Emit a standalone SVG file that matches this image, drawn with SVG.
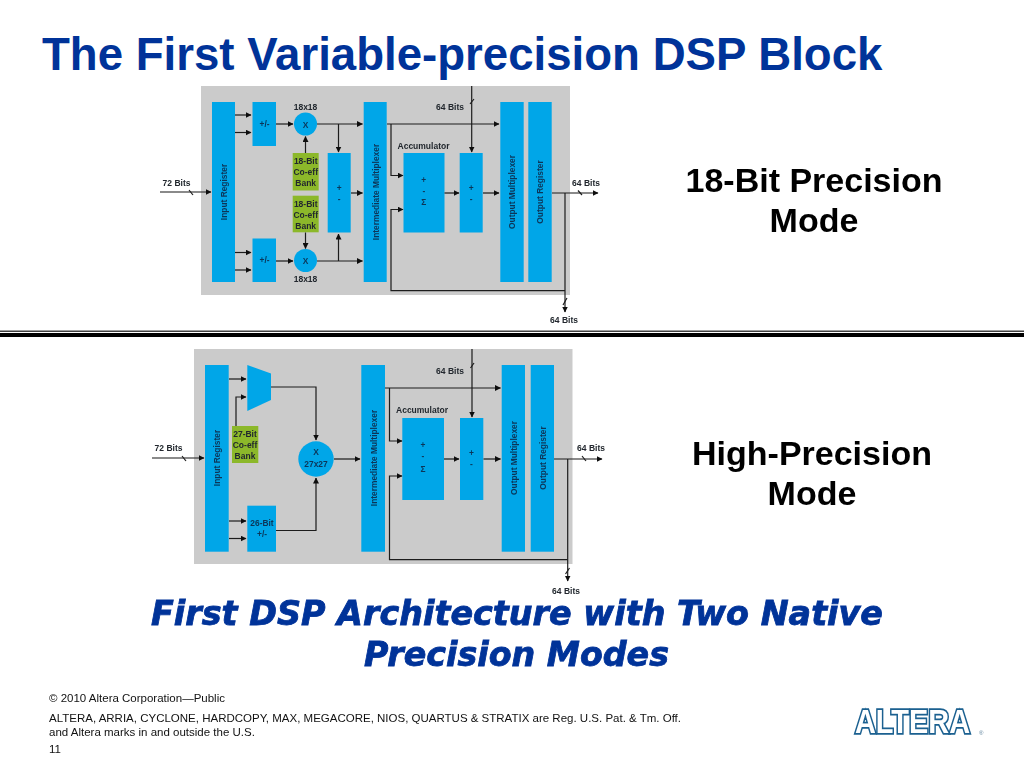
<svg xmlns="http://www.w3.org/2000/svg" width="1024" height="768" viewBox="0 0 1024 768">
<style>
text{font-family:"Liberation Sans",Arial,sans-serif}
.title{font-size:45.6px;font-weight:bold;fill:#003399}
.side{font-size:34px;font-weight:bold;fill:#000;text-anchor:middle}
.arch{font-family:"DejaVu Sans",Verdana,sans-serif;font-size:33px;font-weight:bold;font-style:italic;fill:#003399;stroke:#003399;stroke-width:.8;text-anchor:middle}
.foot{font-size:11.5px;fill:#111}
.bg{fill:#cbcbcb}
.b{fill:#00a6e8}
.g{fill:#8cb82b}
.t{font-size:8.5px;font-weight:bold;fill:#22282e;text-anchor:middle}
.tb{font-size:8.4px;font-weight:bold;fill:#0a3558;text-anchor:middle}
.c{fill:none;stroke:#1c1c1c;stroke-width:1.2}
.a{fill:none;stroke:#1c1c1c;stroke-width:1.2;marker-end:url(#ah)}
.line{fill:#000}
</style>
<defs>
<marker id="ah" viewBox="0 0 6 6" refX="5.500" refY="3" markerWidth="6" markerHeight="6" orient="auto" markerUnits="userSpaceOnUse"><path d="M0 0L6 3L0 6Z" fill="#111"/></marker>
<filter id="soft" x="-5%" y="-5%" width="110%" height="110%"><feGaussianBlur stdDeviation="0.4"/></filter>
</defs>

<text class="title" x="42" y="70">The First Variable-precision DSP Block</text>

<g id="diagram-18bit" filter="url(#soft)">
<rect class="bg" x="201" y="86" width="369" height="209"/>
<g id="input-register-a"><rect class="b" x="212" y="102" width="23" height="180"/><text class="tb" transform="translate(226.500 192) rotate(-90)">Input Register</text></g>
<g id="addsub-a1"><rect class="b" x="252.500" y="102" width="23.500" height="44"/><text class="tb" x="264.500" y="127">+/-</text></g>
<g id="addsub-a2"><rect class="b" x="252.500" y="238.500" width="23.500" height="43.500"/><text class="tb" x="264.500" y="263">+/-</text></g>
<g id="mult-a1"><circle class="b" cx="305.500" cy="124" r="11.500"/><text class="tb" x="305.500" y="127.500">X</text><text class="t" x="305.500" y="110">18x18</text></g>
<g id="mult-a2"><circle class="b" cx="305.500" cy="260.500" r="11.500"/><text class="tb" x="305.500" y="264">X</text><text class="t" x="305.500" y="282">18x18</text></g>
<g id="coeff-a1"><rect class="g" x="292.700" y="153" width="26" height="37.500"/><text class="t" x="305.700" y="164">18-Bit</text><text class="t" x="305.700" y="175">Co-eff</text><text class="t" x="305.700" y="186">Bank</text></g>
<g id="coeff-a2"><rect class="g" x="292.700" y="195.700" width="26" height="36.600"/><text class="t" x="305.700" y="206.500">18-Bit</text><text class="t" x="305.700" y="218">Co-eff</text><text class="t" x="305.700" y="229">Bank</text></g>
<g id="add-a1"><rect class="b" x="327.700" y="153" width="23" height="79.500"/><text class="tb" x="339.200" y="191">+</text><text class="tb" x="339.200" y="202">-</text></g>
<g id="int-mux-a"><rect class="b" x="363.700" y="102" width="23" height="180"/><text class="tb" transform="translate(378.500 192) rotate(-90)">Intermediate Multiplexer</text></g>
<g id="accumulator-a"><rect class="b" x="403.500" y="153" width="41" height="79.500"/><text class="t" x="423.500" y="149">Accumulator</text><text class="tb" x="423.800" y="183">+</text><text class="tb" x="423.800" y="194">-</text><text class="tb" x="423.800" y="205">Σ</text></g>
<g id="add-a2"><rect class="b" x="459.700" y="153" width="23" height="79.500"/><text class="tb" x="471.200" y="191">+</text><text class="tb" x="471.200" y="202">-</text></g>
<g id="out-mux-a"><rect class="b" x="500.300" y="102" width="23.400" height="180"/><text class="tb" transform="translate(515 192) rotate(-90)">Output Multiplexer</text></g>
<g id="out-reg-a"><rect class="b" x="528.300" y="102" width="23.400" height="180"/><text class="tb" transform="translate(543 192) rotate(-90)">Output Register</text></g>
<text class="t" x="176.500" y="186">72 Bits</text>
<text class="t" x="450" y="110">64 Bits</text>
<text class="t" x="586" y="186">64 Bits</text>
<text class="t" x="564" y="323">64 Bits</text>
<g id="connectors-a">
<path class="a" d="M235 115H251"/><path class="a" d="M235 132.500H251"/>
<path class="a" d="M235 252.500H251"/><path class="a" d="M235 270H251"/>
<path class="a" d="M276 124H293"/><path class="a" d="M276 261H293"/>
<path class="a" d="M305.500 153V136.500"/><path class="a" d="M305.500 232.500V248.500"/>
<path class="a" d="M317 124H362.500"/><path class="a" d="M317 261H362.500"/>
<path class="a" d="M338.500 124V152"/><path class="a" d="M338.500 261V234"/>
<path class="a" d="M351 193H362.500"/>
<path class="a" d="M160 192H211"/><path class="c" d="M189 190L193 195"/>
<path class="a" d="M387 124H499"/>
<path class="a" d="M391 124V175.500H403"/>
<path class="a" d="M565 290.700H391V209.500H403"/>
<path class="a" d="M444.500 193H459"/><path class="a" d="M483 193H499"/>
<path class="a" d="M471.700 86V152"/><path class="c" d="M470 104L474 99"/>
<path class="a" d="M552 193H598"/><path class="c" d="M578 190.500L582 195"/>
<path class="a" d="M565 193V312"/><path class="c" d="M563 305L567 298"/>
</g>
</g>

<rect class="line" x="0" y="330.500" width="1024" height="1.500" fill-opacity=".75"/>
<rect class="line" x="0" y="333" width="1024" height="4"/>

<g id="diagram-27bit" filter="url(#soft)">
<rect class="bg" x="194" y="349" width="378.500" height="215"/>
<g id="input-register-b"><rect class="b" x="205" y="365" width="23.700" height="186.700"/><text class="tb" transform="translate(220 458) rotate(-90)">Input Register</text></g>
<g id="mux-b"><path class="b" d="M247.300 365L271 373.500V400L247.300 411Z"/></g>
<g id="coeff-b"><rect class="g" x="232" y="426" width="26.300" height="37"/><text class="t" x="245" y="436.500">27-Bit</text><text class="t" x="245" y="447.500">Co-eff</text><text class="t" x="245" y="458.500">Bank</text></g>
<g id="addsub-b"><rect class="b" x="247.300" y="505.700" width="28.700" height="46"/><text class="tb" x="262" y="526">26-Bit</text><text class="tb" x="262" y="537">+/-</text></g>
<g id="mult-b"><circle class="b" cx="316" cy="459" r="17.700"/><text class="tb" x="316" y="455">X</text><text class="tb" x="316" y="467">27x27</text></g>
<g id="int-mux-b"><rect class="b" x="361.300" y="365" width="23.700" height="186.700"/><text class="tb" transform="translate(376.500 458) rotate(-90)">Intermediate Multiplexer</text></g>
<g id="accumulator-b"><rect class="b" x="402.300" y="418" width="41.700" height="82"/><text class="t" x="422" y="412.500">Accumulator</text><text class="tb" x="423" y="448">+</text><text class="tb" x="423" y="459">-</text><text class="tb" x="423" y="472">Σ</text></g>
<g id="add-b"><rect class="b" x="460" y="418" width="23.300" height="82"/><text class="tb" x="471.500" y="456">+</text><text class="tb" x="471.500" y="467">-</text></g>
<g id="out-mux-b"><rect class="b" x="501.700" y="365" width="23.300" height="186.700"/><text class="tb" transform="translate(516.500 458) rotate(-90)">Output Multiplexer</text></g>
<g id="out-reg-b"><rect class="b" x="530.700" y="365" width="23.300" height="186.700"/><text class="tb" transform="translate(545.500 458) rotate(-90)">Output Register</text></g>
<text class="t" x="168.500" y="451">72 Bits</text>
<text class="t" x="450" y="374">64 Bits</text>
<text class="t" x="591" y="451">64 Bits</text>
<text class="t" x="566" y="594">64 Bits</text>
<g id="connectors-b">
<path class="a" d="M229 379H246"/>
<path class="a" d="M236 426V397H246"/>
<path class="a" d="M229 521H246"/><path class="a" d="M229 538.500H246"/>
<path class="a" d="M271 387H316V440"/>
<path class="a" d="M276 530.500H316V478"/>
<path class="a" d="M334 459H360"/>
<path class="a" d="M152 458H204"/><path class="c" d="M182 456L186 461"/>
<path class="a" d="M385 388H500.500"/>
<path class="a" d="M389.500 388V441H402"/>
<path class="a" d="M567.700 559.700H389.500V476H402"/>
<path class="a" d="M444 459H459"/><path class="a" d="M483.500 459H500.500"/>
<path class="a" d="M472 349V417"/><path class="c" d="M470.500 368L474 363"/>
<path class="a" d="M554 459H602"/><path class="c" d="M582 456L586 461"/>
<path class="a" d="M567.700 459V581"/><path class="c" d="M565.500 574L569.500 568"/>
</g>
</g>

<g id="labels">
<text class="side" x="814" y="192">18-Bit Precision</text>
<text class="side" x="814" y="232">Mode</text>
<text class="side" x="812" y="465">High-Precision</text>
<text class="side" x="812" y="505">Mode</text>
<text class="arch" x="517" y="625" textLength="732" lengthAdjust="spacingAndGlyphs">First DSP Architecture with Two Native</text>
<text class="arch" x="516.500" y="666" textLength="305" lengthAdjust="spacingAndGlyphs">Precision Modes</text>
</g>

<g id="footer">
<text class="foot" x="49" y="702">© 2010 Altera Corporation—Public</text>
<text class="foot" x="49" y="722">ALTERA, ARRIA, CYCLONE, HARDCOPY, MAX, MEGACORE, NIOS, QUARTUS &amp; STRATIX are Reg. U.S. Pat. &amp; Tm. Off.</text>
<text class="foot" x="49" y="736">and Altera marks in and outside the U.S.</text>
<text class="foot" x="49" y="753">11</text>
</g>

<g id="logo">
<text transform="translate(855 733) scale(.85 1)" font-size="34" font-weight="bold" fill="#fff" stroke="#1b6090" stroke-width="3.500" stroke-linejoin="miter" paint-order="stroke">ALTERA</text>
<text x="979" y="735" font-size="6" fill="#5a7f99">®</text>
</g>
</svg>
